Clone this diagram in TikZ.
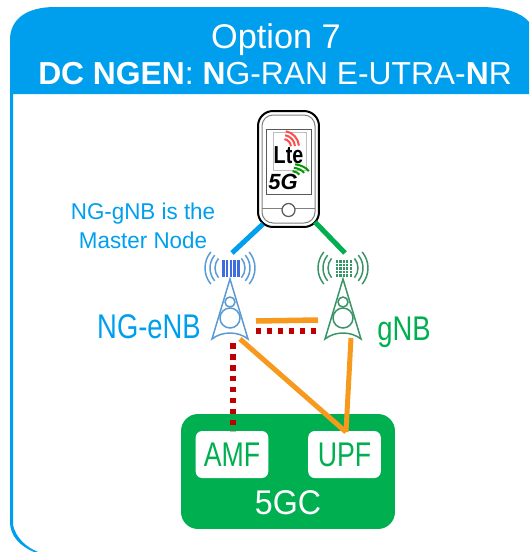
\documentclass[tikz,border=0pt]{standalone}
\usepackage{fontspec}
\setmainfont{Liberation Sans}
\definecolor{headblue}{HTML}{009FEE}
\definecolor{coregreen}{HTML}{00B050}
\definecolor{linkorange}{HTML}{F7991C}
\definecolor{linkred}{HTML}{C00000}
\definecolor{towerblue}{HTML}{5B9BD5}
\definecolor{towergreen}{HTML}{3B9468}
\tikzset{
  linkline/.style={line width=.1cm,linkorange},
  ctrlline/.style={line width=.11cm,linkred,dash pattern=on .11cm off .11cm},
  radioline/.style={line width=.1cm},
  funcbox/.style={fill=white,rounded corners=.13cm,minimum width=1.86cm,minimum height=.94cm,
    text=coregreen,font=\fontsize{19.5}{20}\selectfont,xscale=.78}
}
\begin{document}
\begin{tikzpicture}[x=0.02cm,y=-0.02cm]
\useasboundingbox (0,0) rectangle (529,552);
% frame and header
\fill[headblue] (10,40) .. controls (10,18) and (28,7) .. (55,7) -- (480,7)
  .. controls (505,7) and (522,13) .. (529,22) -- (529,94) -- (13,94) -- (13,525)
  .. controls (16,538) and (26,547) .. (38,552) -- (34,552)
  .. controls (20,546) and (10,536) .. (10,522) -- cycle;
\node[text=white,font=\fontsize{19.5}{20}\selectfont] (optitle) at (276,40) {Option 7};
\node[text=white,font=\fontsize{18.1}{20}\selectfont] (optsub) at (275,74)
  {\textbf{DC NGEN}: \textbf{N}G-RAN E-UTRA-\textbf{N}R};
% phone
\node[draw,line width=.04cm,rounded corners=.3cm,fill=white,minimum width=1.22cm,minimum height=2.32cm] (phone) at (288.5,169) {};
\draw[gray,line width=.02cm,rounded corners=.22cm] (262,115) rectangle (315,223);
\draw[gray!70!black,line width=.02cm,fill=white] (266,129) rectangle (311,194);
\draw[gray!50,line width=.01cm] (273,132) rectangle (306,170);
\draw[gray,line width=.02cm] (262,208) -- (282,208) (295,208) -- (315,208);
\draw[gray!70!black,line width=.025cm,fill=white] (288.5,210) circle (.13cm);
\foreach \r in {.16,.24,.32}{
  \draw[red!70!white,line width=.04cm] (283,147) ++(5:\r cm) arc[start angle=5,end angle=80,radius=\r cm];}
\foreach \r in {.2,.3,.4}{
  \draw[green!60!black,line width=.04cm] (290,178) ++(20:\r cm) arc[start angle=20,end angle=75,x radius=\r cm,y radius=.55*\r cm];}
\node[font=\fontsize{14}{14}\selectfont\bfseries,xscale=.8] (ltelogo) at (288.5,155) {Lte};
\node[font=\fontsize{12.5}{13}\selectfont\bfseries\itshape] (fivegstyle) at (283,182) {5G};
% towers
\foreach \tx/\tc in {230/towerblue,343/towergreen}{
  \draw[\tc,line width=.03cm] (\tx,279) -- (\tx-18,339) .. controls (\tx-8,331) and (\tx+8,331) .. (\tx+18,339) -- cycle;
  \draw[\tc,line width=.03cm,fill=white] (\tx,302) circle (.1cm);
  \draw[\tc,line width=.03cm,fill=white] (\tx,318) circle (.2cm);
  \foreach \r in {.3,.4,.5}{
    \draw[\tc,line width=.03cm] (\tx,268) ++(40:\r cm) arc[start angle=40,end angle=-40,radius=\r cm];
    \draw[\tc,line width=.03cm] (\tx,268) ++(140:\r cm) arc[start angle=140,end angle=220,radius=\r cm];}
}
% antenna arrays
\foreach \i in {0,...,4}{
  \fill[towerblue!70!blue] (222+\i*3.8,260) rectangle ++(2.6,17);}
\foreach \i in {0,...,4}{
  \fill[towergreen] (336+\i*3.4,260) rectangle ++(2.2,17);}
\foreach \j in {1,...,4}{
  \draw[white,line width=.015cm] (335,260+\j*3.4) -- (353,260+\j*3.4);}
% core
\node[fill=coregreen,rounded corners=.34cm,minimum width=4.28cm,minimum height=2.3cm] (core) at (288,471.5) {};
\node[funcbox] (amf) at (232,454.5) {AMF};
\node[funcbox] (upf) at (344.5,454.5) {UPF};
\node[text=white,font=\fontsize{19.5}{20}\selectfont,xscale=.94] (corelabel) at (288,503) {5GC};
% labels
\node[text=headblue,font=\fontsize{13}{16.5}\selectfont,align=center,xscale=.98] (masternote) at (143,226) {NG-gNB is the\\Master Node};
\node[text=headblue,font=\fontsize{19.5}{20}\selectfont,xscale=.8] (enblabel) at (149,327) {NG-eNB};
\node[text=coregreen,font=\fontsize{19.5}{20}\selectfont,xscale=.8] (gnblabel) at (404,332) {gNB};
% link ends
\coordinate (phoneB) at (263,224);
\coordinate (phoneG) at (315,222);
\coordinate (enbTop) at (232,253);
\coordinate (gnbTop) at (345,253);
\coordinate (enbE) at (256,321);
\coordinate (gnbW) at (318,320);
\coordinate (enbR) at (256,331);
\coordinate (gnbR) at (318,331);
\coordinate (enbS) at (233,343);
\coordinate (amfN) at (233,431);
\coordinate (enbU) at (240,339);
\coordinate (upfN) at (346,432);
\coordinate (gnbS) at (351,338);
% links
\draw[radioline,headblue] (phoneB) -- (enbTop);
\draw[radioline,coregreen] (phoneG) -- (gnbTop);
\draw[linkline,line width=.11cm] (enbE) -- (gnbW);
\draw[ctrlline] (enbR) -- (gnbR);
\draw[ctrlline] (enbS) -- (amfN);
\draw[linkline] (enbU) -- (upfN);
\draw[linkline] (gnbS) -- (upfN);
\end{tikzpicture}
\end{document}
